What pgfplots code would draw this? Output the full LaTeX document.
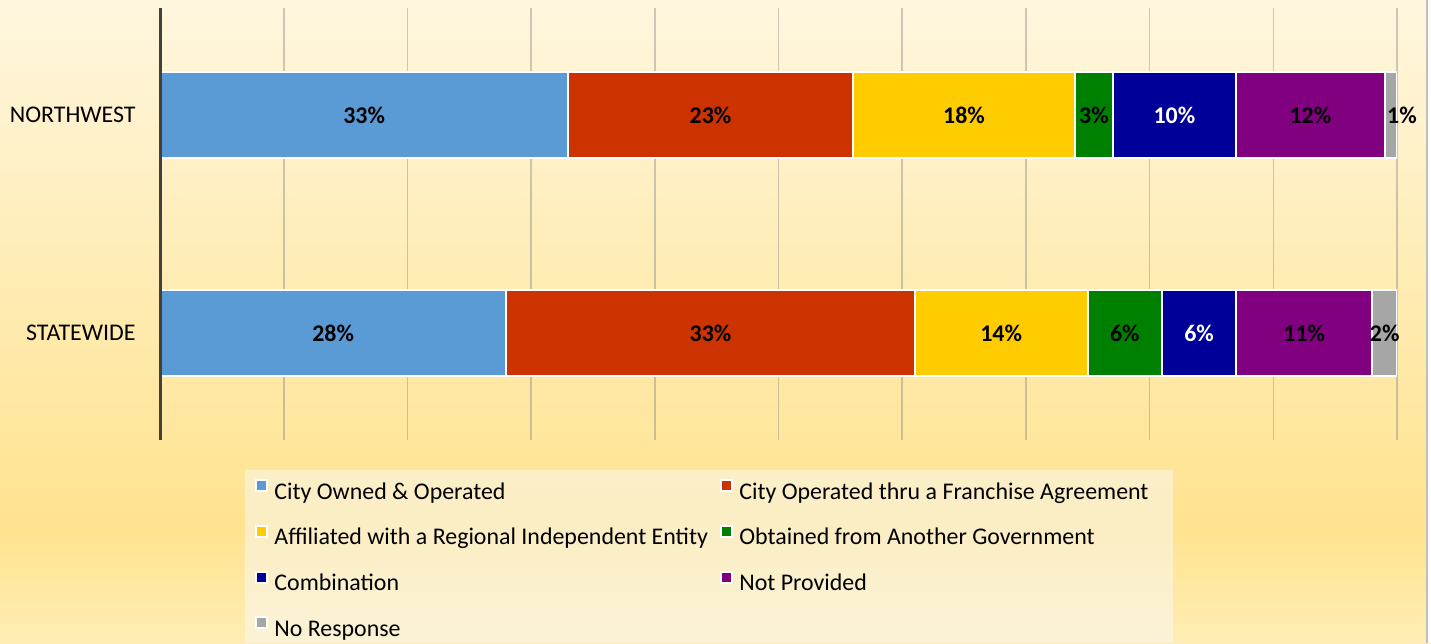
\documentclass[border=0pt]{standalone}
\usepackage{pgfplots}
\pgfplotsset{compat=1.18}
\usepackage{fontspec}
\setmainfont{Carlito}
\definecolor{cOwned}{HTML}{5B9BD5}
\definecolor{cFran}{HTML}{CC3300}
\definecolor{cAff}{HTML}{FFCC00}
\definecolor{cObt}{HTML}{008000}
\definecolor{cComb}{HTML}{000099}
\definecolor{cNot}{HTML}{800080}
\definecolor{cNoR}{HTML}{A6A6A6}
\definecolor{bgtop}{HTML}{FFF6DE}
\definecolor{bgmid}{HTML}{FFE38F}
\definecolor{bgbot}{HTML}{FFEDB5}
\definecolor{axisgray}{HTML}{404040}
\pgfdeclareverticalshading{chartbg}{100bp}{color(0bp)=(bgbot); color(25bp)=(bgbot); color(34bp)=(bgmid); color(75bp)=(bgtop); color(100bp)=(bgtop)}

\pgfplotstableread{
region y owned fran aff obt comb notp nor
STATEWIDE 0 28 33 14 6 6 11 2
NORTHWEST 1 33 23 18 3 10 12 1
}\datatable

\pgfplotstableread{
x y v
14 0 28
44.5 0 33
68 0 14
78 0 6
92.5 0 11
99 0 2
16.5 1 33
44.5 1 23
65 1 18
75.5 1 3
93 1 12
100.4 1 1
}\blacklabels

\pgfplotstableread{
x y v
84 0 6
82 1 10
}\whitelabels

\begin{document}
\begin{tikzpicture}[x=1bp,y=1bp]
\shade[shading=chartbg] (0,0) rectangle (715.5,321.5);
\fill[white] (713.5,0) rectangle (715.5,321.5);
\draw[draw=black!25, line width=1bp] (713.5,0) -- (713.5,321.5);
\fill[gray!5, opacity=0.5] (122.5,0) rectangle (586.5,86.5);

\begin{axis}[
  at={(80bp,101.5bp)}, anchor=south west,
  scale only axis, width=618.5bp, height=216bp,
  xmin=0, xmax=100, ymin=-0.49, ymax=1.49,
  xbar stacked, bar width=0.394,
  axis lines*=left,
  x axis line style={draw=none},
  y axis line style={draw=none},
  xtick={0,10,...,100}, xticklabels={},
  ytick={0,1}, yticklabels={},
  major tick length=0pt,
  xmajorgrids,
  grid style={draw=black!50, opacity=0.4, line width=0.8bp},
  every axis plot/.append style={draw=white, line width=1bp},
  legend columns=2,
  legend cell align=left,
  legend image code/.code={\draw[#1, draw=white, line width=1bp] (0bp,1bp) rectangle (5.5bp,6.5bp);},
  legend style={at={(axis description cs:0.0768,-0.0903)}, anchor=north west,
    draw=none, fill=none, inner sep=0pt, outer sep=0pt,
    font=\fontsize{12}{14}\selectfont,
    /tikz/row sep=9.9bp,
    nodes={inner sep=0pt, text height=9bp, text depth=3bp},
    /tikz/every odd column/.append style={column sep=3.2bp},
    /tikz/every even column/.append style={column sep=6bp}},
]
\addplot[fill=cOwned] table[x=owned, y=y] {\datatable};
\addlegendentry{City Owned \& Operated}
\addplot[fill=cFran] table[x=fran, y=y] {\datatable};
\addlegendentry{City Operated thru a Franchise Agreement}
\addplot[fill=cAff] table[x=aff, y=y] {\datatable};
\addlegendentry{Affiliated with a Regional Independent Entity}
\addplot[fill=cObt] table[x=obt, y=y] {\datatable};
\addlegendentry{Obtained from Another Government}
\addplot[fill=cComb] table[x=comb, y=y] {\datatable};
\addlegendentry{Combination}
\addplot[fill=cNot] table[x=notp, y=y] {\datatable};
\addlegendentry{Not Provided}
\addplot[fill=cNoR] table[x=nor, y=y] {\datatable};
\addlegendentry{No Response}
\end{axis}

\begin{axis}[
  at={(80bp,101.5bp)}, anchor=south west,
  scale only axis, width=618.5bp, height=216bp,
  xmin=0, xmax=100, ymin=-0.49, ymax=1.49,
  axis x line=none,
  axis y line*=left,
  y axis line style={draw=axisgray, line width=1.5bp},
  ytick={0,1}, yticklabels={STATEWIDE,NORTHWEST},
  major tick length=0pt,
  yticklabel style={font=\fontsize{12}{14}\selectfont, inner sep=0pt, xshift=-12bp},
  clip=false,
  /pgf/number format/assume math mode=true,
  nodes near coords={\pgfmathprintnumber{\pgfplotspointmeta}\%},
  nodes near coords align={center},
  point meta=explicit,
]
\addplot[draw=none, mark=none, every node near coord/.append style={font=\bfseries\fontsize{12}{14}\selectfont, text=black, anchor=center}] table[x=x, y=y, meta=v] {\blacklabels};
\addplot[draw=none, mark=none, every node near coord/.append style={font=\bfseries\fontsize{12}{14}\selectfont, text=white, anchor=center}] table[x=x, y=y, meta=v] {\whitelabels};
\end{axis}
\pgfresetboundingbox
\useasboundingbox (0,0) rectangle (715.5,321.5);
\end{tikzpicture}
\end{document}
